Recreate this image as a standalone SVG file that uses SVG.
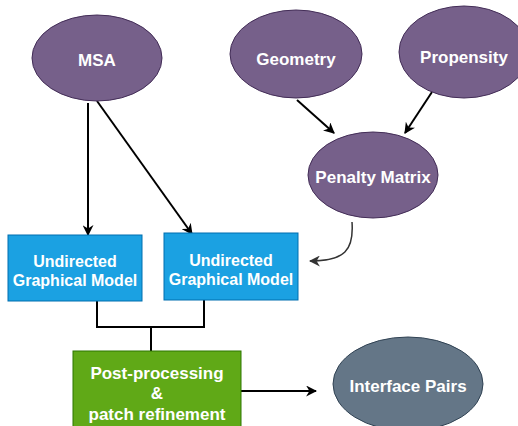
<svg xmlns="http://www.w3.org/2000/svg" width="518" height="426" viewBox="0 0 518 426">
<style>
.pu{fill:#76608A;stroke:#432D57;stroke-width:1}
.bl{fill:#1BA1E2;stroke:#006EAF;stroke-width:1}
.gr{fill:#60A917;stroke:#2D7600;stroke-width:1}
.gy{fill:#647687;stroke:#314354;stroke-width:1}
text{font-family:"Liberation Sans",Arial,sans-serif;font-weight:bold;fill:#fff;text-anchor:middle}
.e{font-size:17px}
.b{font-size:16px}
.c{fill:none;stroke:#000;stroke-width:2}
</style>
<defs>
<marker id="ah" viewBox="0 0 10 10" refX="9" refY="5" markerWidth="11" markerHeight="11" markerUnits="userSpaceOnUse" orient="auto">
<path d="M0,0 L10,5 L0,10 L3,5 z" fill="#000"/>
</marker>
<marker id="ah2" viewBox="0 0 10 10" refX="9" refY="5" markerWidth="11" markerHeight="11" markerUnits="userSpaceOnUse" orient="auto">
<path d="M0,0 L10,5 L0,10 L3,5 z" fill="#333"/>
</marker>
</defs>
<g id="connectors">
<path class="c" d="M88,103 V235" marker-end="url(#ah)"/>
<path class="c" d="M97,101 L192,234" marker-end="url(#ah)"/>
<path class="c" d="M297,100 L334,133" marker-end="url(#ah)"/>
<path class="c" d="M432,92 L405,133" marker-end="url(#ah)"/>
<path d="M352,222 C354,250 345,261 310,261" fill="none" stroke="#333" stroke-width="1.5" marker-end="url(#ah2)"/>
<path class="c" d="M97,301 V327 H204 V300"/>
<path class="c" d="M151,327 V351"/>
<path class="c" d="M241,391 H316" marker-end="url(#ah)"/>
</g>
<g id="msa"><ellipse class="pu" cx="97" cy="58" rx="65" ry="43"/><text class="e" x="97" y="66">MSA</text></g>
<g id="geometry"><ellipse class="pu" cx="296" cy="54" rx="66" ry="44"/><text class="e" x="296" y="65">Geometry</text></g>
<g id="propensity"><ellipse class="pu" cx="464" cy="52" rx="65" ry="46"/><text class="e" x="464" y="63">Propensity</text></g>
<g id="penalty"><ellipse class="pu" cx="373" cy="175" rx="65" ry="43"/><text class="e" x="373" y="183">Penalty Matrix</text></g>
<g id="ugm1"><rect class="bl" x="8" y="235" width="134" height="66"/><text class="b" x="75" y="267">Undirected</text><text class="b" x="75" y="286">Graphical Model</text></g>
<g id="ugm2"><rect class="bl" x="164" y="233" width="134" height="67"/><text class="b" x="231" y="266">Undirected</text><text class="b" x="231" y="285">Graphical Model</text></g>
<g id="post"><rect class="gr" x="73" y="351" width="168" height="90"/><text class="e" x="157" y="379">Post-processing</text><text class="e" x="157" y="399">&amp;</text><text class="e" x="157" y="420">patch refinement</text></g>
<g id="interface"><ellipse class="gy" cx="408" cy="384" rx="75" ry="47"/><text class="e" x="408" y="392">Interface Pairs</text></g>
</svg>
